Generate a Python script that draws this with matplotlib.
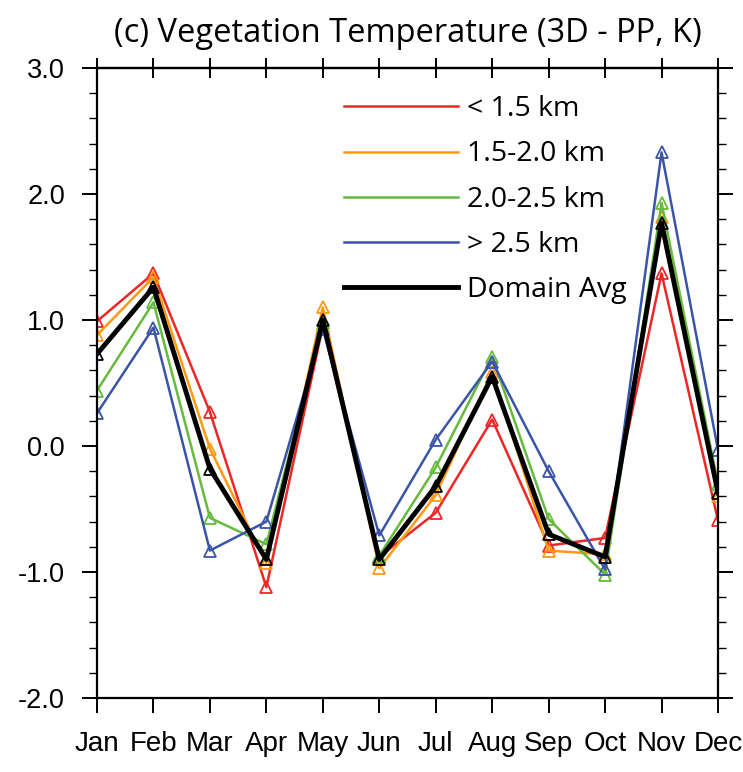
import matplotlib
matplotlib.use("Agg")
import matplotlib.pyplot as plt
from matplotlib.lines import Line2D
import numpy as np

months = ["Jan", "Feb", "Mar", "Apr", "May", "Jun", "Jul", "Aug", "Sep", "Oct", "Nov", "Dec"]
lt15 = [0.99, 1.37, 0.27, -1.12, 0.95, -0.88, -0.53, 0.21, -0.79, -0.73, 1.37, -0.59]
r15_20 = [0.88, 1.34, -0.02, -0.93, 1.10, -0.97, -0.39, 0.59, -0.83, -0.86, 1.82, -0.40]
r20_25 = [0.44, 1.14, -0.57, -0.78, 0.98, -0.87, -0.17, 0.71, -0.58, -1.02, 1.93, -0.30]
gt25 = [0.26, 0.94, -0.83, -0.60, 0.93, -0.71, 0.05, 0.67, -0.20, -0.98, 2.33, -0.03]
domain = [0.73, 1.26, -0.18, -0.90, 1.00, -0.90, -0.32, 0.55, -0.70, -0.88, 1.77, -0.37]

labels = ["< 1.5 km", "1.5-2.0 km", "2.0-2.5 km", "> 2.5 km", "Domain Avg"]
colors = ["#ee2626", "#ff9910", "#66bb3c", "#3a55a8", "black"]
series = [lt15, r15_20, r20_25, gt25, domain]
widths = [1.8, 1.8, 1.8, 1.8, 3.5]

fig = plt.figure(figsize=(7.43, 7.72), dpi=100)
ax = fig.add_axes([97/743, 1-698/772, (718-97)/743, (698-68)/772])

x = np.arange(len(months))
for s, c, w in zip(series, colors, widths):
    ax.plot(x, s, color=c, lw=w, marker="^", markersize=9, markerfacecolor="none",
            markeredgecolor=c, markeredgewidth=1.3, zorder=3 if c == "black" else 2)

ax.set_xlim(0, 11)
ax.set_ylim(-2.0, 3.0)
ax.set_yticks([-2, -1, 0, 1, 2, 3])
ax.set_yticklabels(["-2.0", "-1.0", "0.0", "1.0", "2.0", "3.0"],
                   family=["Liberation Sans", "DejaVu Sans"], fontsize=19.5)
ax.set_yticks(np.arange(-2.0, 3.01, 0.2), minor=True)
ax.set_xticks(x)
ax.set_xticklabels(months, family=["Liberation Sans Narrow", "Liberation Sans"], fontsize=20)

for sp in ax.spines.values():
    sp.set_linewidth(1.6)

ax.tick_params(axis="y", which="major", direction="out", length=11, width=1.4,
               right=True, pad=12)
ax.tick_params(axis="y", which="minor", direction="out", length=6, width=1.0, right=True)
ax.tick_params(axis="x", which="major", direction="out", length=11, width=1.4,
               bottom=True, top=False, pad=13)
ax2 = ax.secondary_xaxis("top")
ax2.set_xticks(x)
ax2.set_xticklabels([])
ax2.tick_params(axis="x", direction="inout", length=14, width=1.4)
ax2.spines["top"].set_linewidth(1.6)

ax.set_title("(c) Vegetation Temperature (3D - PP, K)", family=["Open Sans", "DejaVu Sans"],
             fontsize=23.5, pad=19)

handles = [Line2D([], [], color=c, lw=w) for c, w in zip(colors, widths)]
leg = ax.legend(handles, labels, loc="upper left", bbox_to_anchor=((333-97)/621, 1-(84-68)/630),
                frameon=False, handlelength=4.0, handletextpad=0.3, labelspacing=0.6,
                prop={"family": ["Open Sans", "DejaVu Sans"], "size": 20.5}, borderaxespad=0)

fig.savefig("out.png", dpi=100)
